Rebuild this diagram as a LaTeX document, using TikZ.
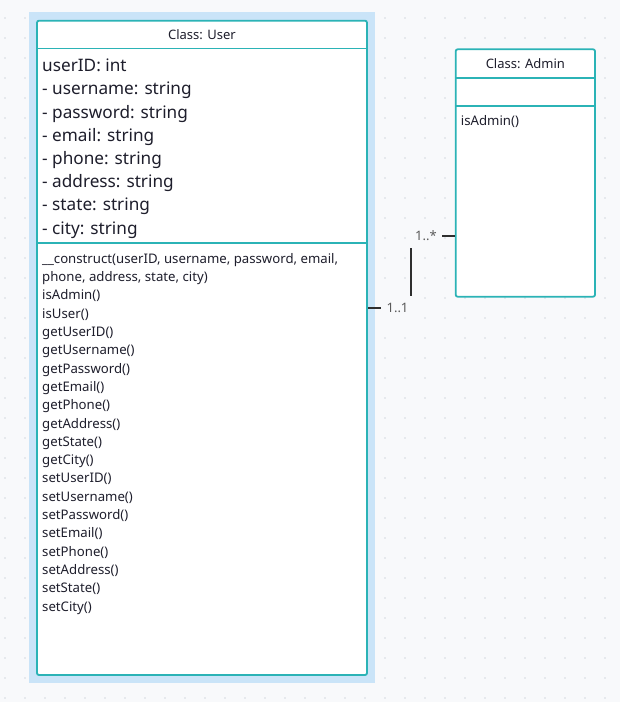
\documentclass[tikz,border=0pt]{standalone}
\usepackage{fontspec}
\setmainfont{Noto Sans}
\definecolor{canvas}{HTML}{F8F9FB}
\definecolor{gdot}{HTML}{D5D9DF}
\definecolor{hilite}{HTML}{CAE4F8}
\definecolor{tealb}{HTML}{2BB3B6}
\definecolor{ink}{HTML}{1E1E2C}
\definecolor{lbl}{HTML}{5A5A5A}
\definecolor{conncol}{HTML}{2E2E2E}
\tikzset{
  umlbox/.style={draw=tealb, line width=1.8pt, fill=white, rounded corners=2pt, inner sep=0pt},
  sep/.style={draw=tealb, line width=1.6pt},
  hdr/.style={inner sep=0pt, anchor=base, text=ink, font=\fontsize{13}{16}\selectfont},
  attr/.style={inner sep=0pt, anchor=base west, text=ink, font=\fontsize{17.2}{23}\selectfont},
  meth/.style={inner sep=0pt, anchor=base west, text=ink, font=\fontsize{13.2}{18}\selectfont},
  conn/.style={draw=conncol, line width=1.8pt},
  mult/.style={fill=canvas, text=lbl, inner sep=0pt, minimum height=24pt, font=\fontsize{13}{16}\selectfont}
}
\begin{document}
\begin{tikzpicture}[x=1pt,y=-1pt]
\fill[canvas] (0,0) rectangle (620,702);
\useasboundingbox (0,0) rectangle (620,702);
\foreach \gx in {5,25,...,615}{
  \foreach \gy in {18,38,...,698}{
    \fill[gdot] (\gx,\gy) circle (0.9);
  }
}
% selection highlight
\fill[hilite] (29,12.3) rectangle (375,682.7);
% boxes
\node[umlbox, minimum width=330pt, minimum height=654.3pt] (user) at (202,347.85) {};
\node[umlbox, minimum width=139.3pt, minimum height=247.4pt] (admin) at (525.35,173) {};
% compartments
\draw[sep] (user.west |- 0,48.3) -- (user.east |- 0,48.3);
\draw[sep] (user.west |- 0,242.7) -- (user.east |- 0,242.7);
\draw[sep] (admin.west |- 0,77.7) -- (admin.east |- 0,77.7);
\draw[sep] (admin.west |- 0,106) -- (admin.east |- 0,106);
% headers
\node[hdr] (userhdr) at (202,39.5) {Class: User};
\node[hdr] (adminhdr) at (525.35,68.7) {Class: Admin};
% attributes
\foreach \t [count=\i from 0] in {userID: int,- username: string,- password: string,- email: string,- phone: string,- address: string,- state: string,- city: string}{
  \node[attr] (a\i) at (42,71.7+23.2*\i) {\t};
}
% methods
\foreach \t [count=\i from 0] in {{\_\_construct(userID, username, password, email,}, {phone, address, state, city)}, isAdmin(), isUser(), getUserID(), getUsername(), getPassword(), getEmail(), getPhone(), getAddress(), getState(), getCity(), setUserID(), setUsername(), setPassword(), setEmail(), setPhone(), setAddress(), setState(), setCity()}{
  \node[meth] (m\i) at (42,263.3+18.3*\i) {\t};
}
\node[meth] (am0) at (460.7,125) {isAdmin()};
% connector
\coordinate (c1) at (411,308);
\coordinate (c2) at (411,236);
\draw[conn] (user.east |- c1) -- (c1) -- (c2) -- (admin.west |- c2);
\node[mult, minimum width=33pt] (mu1) at (397.5,308) {1..1};
\node[mult, minimum width=34pt] (mu2) at (425,236) {\hspace*{2pt}1..*};
\end{tikzpicture}
\end{document}
